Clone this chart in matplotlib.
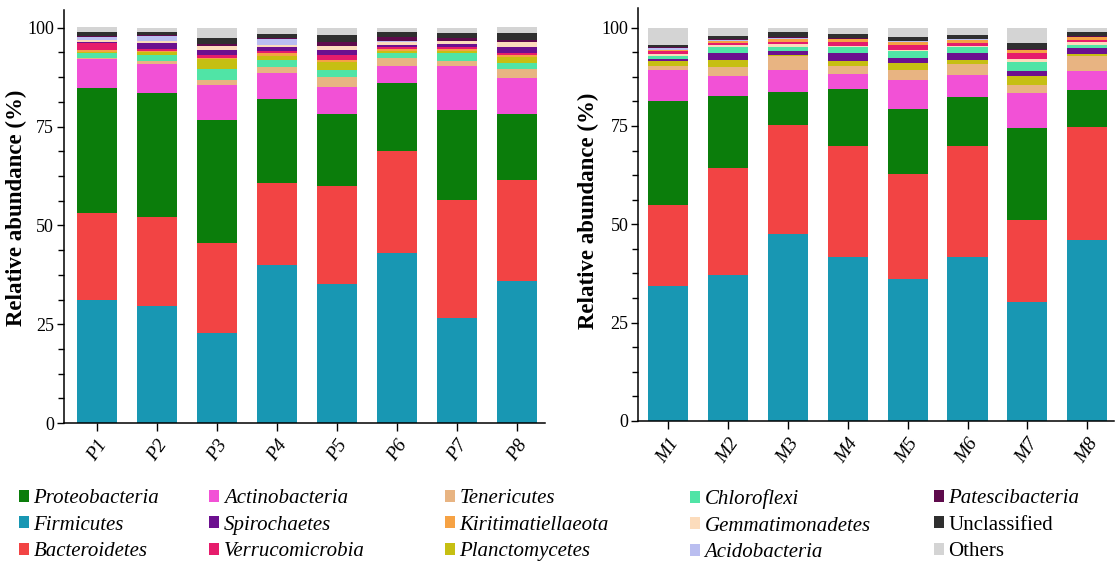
import matplotlib
matplotlib.use("Agg")
import numpy as np
import matplotlib.pyplot as plt
from matplotlib.patches import Patch
from matplotlib.ticker import MultipleLocator

plt.rcParams['font.family'] = ['Liberation Serif', 'DejaVu Serif']

p_samples = ['P1', 'P2', 'P3', 'P4', 'P5', 'P6', 'P7', 'P8']
m_samples = ['M1', 'M2', 'M3', 'M4', 'M5', 'M6', 'M7', 'M8']

# relative abundance (%) per phylum, P group
p_firmicutes = [31.1, 29.6, 22.8, 40.0, 35.2, 43.0, 26.6, 36.0]
p_bacteroidetes = [22.1, 22.6, 22.8, 20.8, 24.8, 25.9, 29.9, 25.5]
p_proteobacteria = [31.6, 31.4, 31.1, 21.2, 18.2, 17.1, 22.7, 16.7]
p_actinobacteria = [7.3, 7.2, 8.9, 6.5, 6.9, 4.4, 11.2, 9.0]
p_tenericutes = [0.3, 0.7, 1.3, 1.7, 2.4, 2.0, 1.1, 2.3]
p_chloroflexi = [1.2, 1.6, 2.7, 1.7, 1.9, 1.3, 2.1, 1.7]
p_planctomycetes = [0.3, 0.7, 2.4, 1.0, 1.9, 0.3, 0.5, 1.3]
p_kiritimatiellaeota = [0.6, 0.4, 0.3, 0.7, 0.5, 0.6, 0.5, 0.6]
p_verrucomicrobia = [1.6, 0.5, 0.7, 0.5, 1.3, 0.6, 0.5, 0.6]
p_spirochaetes = [0.3, 1.4, 1.3, 1.0, 1.4, 0.4, 0.7, 1.4]
p_gemmatimonadetes = [0.6, 0.6, 1.0, 0.6, 0.8, 0.9, 0.8, 1.2]
p_acidobacteria = [0.7, 1.3, 0.1, 1.5, 0.2, 0.2, 0.1, 0.1]
p_patescibacteria = [0.3, 0.3, 0.5, 0.3, 1.0, 1.0, 0.7, 0.5]
p_unclassified = [1.0, 0.6, 1.6, 1.0, 1.8, 1.3, 1.4, 1.9]
p_others = [1.2, 1.1, 2.5, 1.4, 1.7, 1.0, 1.1, 1.4]

# relative abundance (%) per phylum, M group
m_firmicutes = [34.4, 37.2, 47.6, 41.7, 36.1, 41.7, 30.3, 46.0]
m_bacteroidetes = [20.6, 27.2, 27.7, 28.3, 26.7, 28.3, 20.8, 28.8]
m_proteobacteria = [26.4, 18.3, 8.4, 14.5, 16.6, 12.4, 23.5, 9.4]
m_actinobacteria = [7.9, 5.1, 5.6, 3.8, 7.4, 5.6, 8.8, 4.7]
m_tenericutes = [1.0, 2.2, 3.4, 2.0, 2.5, 2.8, 1.9, 4.0]
m_planctomycetes = [1.3, 1.7, 0.3, 1.3, 1.7, 1.0, 2.4, 0.3]
m_spirochaetes = [0.4, 1.9, 1.1, 1.9, 1.3, 1.7, 1.3, 1.5]
m_chloroflexi = [0.8, 1.5, 1.0, 1.5, 1.7, 1.5, 2.3, 0.8]
m_gemmatimonadetes = [0.4, 0.6, 0.7, 0.4, 0.3, 0.3, 0.6, 0.8]
m_verrucomicrobia = [0.8, 0.4, 0.6, 1.0, 1.3, 0.8, 1.7, 0.6]
m_kiritimatiellaeota = [0.4, 0.5, 0.8, 0.7, 0.8, 0.8, 0.6, 0.6]
m_acidobacteria = [0.3, 0.2, 0.1, 0.1, 0.1, 0.1, 0.1, 0.1]
m_patescibacteria = [0.3, 0.3, 0.4, 0.2, 0.2, 0.2, 0.3, 0.2]
m_unclassified = [0.7, 0.8, 1.1, 1.0, 1.0, 1.0, 1.5, 1.1]
m_others = [4.2, 2.1, 1.2, 1.6, 2.3, 1.8, 3.8, 1.1]

colors = {
    'Proteobacteria': '#0b7d0b',
    'Firmicutes': '#1897b3',
    'Bacteroidetes': '#f24444',
    'Actinobacteria': '#f251d6',
    'Spirochaetes': '#6c108f',
    'Verrucomicrobia': '#e61c6c',
    'Tenericutes': '#e8b482',
    'Kiritimatiellaeota': '#f6a244',
    'Planctomycetes': '#c6bf12',
    'Chloroflexi': '#50e4a6',
    'Gemmatimonadetes': '#fcdcbc',
    'Acidobacteria': '#babef0',
    'Patescibacteria': '#5e0b4c',
    'Unclassified': '#2f2f2f',
    'Others': '#d4d4d4',
}

# stacking order, bottom to top
p_stack = [
    ('Firmicutes', p_firmicutes), ('Bacteroidetes', p_bacteroidetes),
    ('Proteobacteria', p_proteobacteria), ('Actinobacteria', p_actinobacteria),
    ('Tenericutes', p_tenericutes), ('Chloroflexi', p_chloroflexi),
    ('Planctomycetes', p_planctomycetes), ('Kiritimatiellaeota', p_kiritimatiellaeota),
    ('Verrucomicrobia', p_verrucomicrobia), ('Spirochaetes', p_spirochaetes),
    ('Gemmatimonadetes', p_gemmatimonadetes), ('Acidobacteria', p_acidobacteria),
    ('Patescibacteria', p_patescibacteria), ('Unclassified', p_unclassified),
    ('Others', p_others),
]
m_stack = [
    ('Firmicutes', m_firmicutes), ('Bacteroidetes', m_bacteroidetes),
    ('Proteobacteria', m_proteobacteria), ('Actinobacteria', m_actinobacteria),
    ('Tenericutes', m_tenericutes), ('Planctomycetes', m_planctomycetes),
    ('Spirochaetes', m_spirochaetes), ('Chloroflexi', m_chloroflexi),
    ('Gemmatimonadetes', m_gemmatimonadetes), ('Verrucomicrobia', m_verrucomicrobia),
    ('Kiritimatiellaeota', m_kiritimatiellaeota), ('Acidobacteria', m_acidobacteria),
    ('Patescibacteria', m_patescibacteria), ('Unclassified', m_unclassified),
    ('Others', m_others),
]

legend_columns = [
    ['Proteobacteria', 'Firmicutes', 'Bacteroidetes'],
    ['Actinobacteria', 'Spirochaetes', 'Verrucomicrobia'],
    ['Tenericutes', 'Kiritimatiellaeota', 'Planctomycetes'],
    ['Chloroflexi', 'Gemmatimonadetes', 'Acidobacteria'],
    ['Patescibacteria', 'Unclassified', 'Others'],
]
legend_x = [0.017, 0.187, 0.398, 0.617, 0.835]


def stacked_panel(ax, samples, stack, xlim, ylim, label_xy):
    x = np.arange(len(samples))
    bottom = np.zeros(len(samples))
    for name, vals in stack:
        ax.bar(x, vals, width=0.67, bottom=bottom, color=colors[name], linewidth=0)
        bottom += np.array(vals)
    ax.set_xlim(*xlim)
    ax.set_ylim(*ylim)
    ax.set_xticks(x)
    ax.set_xticklabels(samples, rotation=55, ha='right', rotation_mode='anchor',
                       fontstyle='italic', fontsize=14)
    ax.yaxis.set_major_locator(MultipleLocator(25))
    ax.yaxis.set_minor_locator(MultipleLocator(6.25))
    ax.tick_params(axis='y', which='major', labelsize=13, length=5, width=1, pad=2)
    ax.tick_params(axis='y', which='minor', length=4, width=1)
    ax.tick_params(axis='x', length=6, width=1, pad=4)
    for side in ['top', 'right']:
        ax.spines[side].set_visible(False)
    for side in ['left', 'bottom']:
        ax.spines[side].set_linewidth(1.1)
    ax.set_ylabel('Relative abundance (%)', fontweight='bold', fontsize=16.5)
    ax.yaxis.set_label_coords(*label_xy)


fig = plt.figure(figsize=(11.18, 5.65), dpi=100)
ax1 = fig.add_axes([0.0572, 0.2513, 0.4302, 0.731])
ax2 = fig.add_axes([0.5707, 0.2549, 0.4258, 0.731])

stacked_panel(ax1, p_samples, p_stack, (-0.545, 7.47), (0, 104.5), (-0.077, 0.52))
stacked_panel(ax2, m_samples, m_stack, (-0.507, 7.45), (0, 105), (-0.082, 0.51))

for col, xpos in zip(legend_columns, legend_x):
    handles = [Patch(facecolor=colors[n], edgecolor='none') for n in col]
    leg = fig.legend(handles, col, loc='upper left', bbox_to_anchor=(xpos, 0.134),
                     frameon=False, fontsize=15, handlelength=0.5, handleheight=0.5,
                     handletextpad=0.2, labelspacing=0.36, borderpad=0, borderaxespad=0)
    for t in leg.get_texts():
        if t.get_text() not in ('Unclassified', 'Others'):
            t.set_fontstyle('italic')

fig.savefig('out.png', dpi=100)
